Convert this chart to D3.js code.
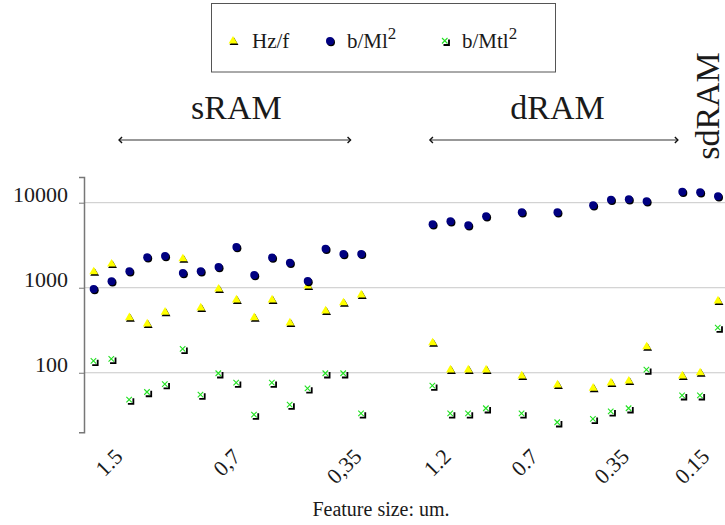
<!DOCTYPE html>
<html>
<head>
<meta charset="utf-8">
<script src="https://cdn.jsdelivr.net/npm/d3@7/dist/d3.min.js"></script>
<style>
  body { margin: 0; background: #fff; }
</style>
</head>
<body>
<svg class="chart"></svg>
<script>
var width = 725, height = 525;
var serif = "'Liberation Serif', 'Times New Roman', Times, serif";

// slot = position of each measurement along the category axis
var sramSlots  = [0, 1, 2, 3, 4, 5, 6, 7, 8, 9, 10, 11, 12, 13, 14, 15];
var dramSlots  = [19, 20, 21, 22, 24, 26, 28, 29, 30, 31];
var sdramSlots = [33, 34, 35];

var hzfSram  = [1540, 1900, 445, 375, 515, 2190, 580, 965, 720, 445, 720, 385, 1050, 535, 665, 825];
var hzfDram  = [225, 108, 108, 108, 92, 72, 66, 76, 80, 202];
var hzfSdram = [92, 100, 700];

var bmlSram  = [965, 1190, 1560, 2280, 2360, 1490, 1560, 1750, 3010, 1410, 2260, 1970, 1200, 2870, 2490, 2500];
var bmlDram  = [5570, 6040, 5420, 6920, 7710, 7710, 9310, 10840, 10980, 10380];
var bmlSdram = [13460, 13250, 11890];

var bmtlSram  = [137, 145, 48, 59, 73, 190, 55, 98, 76, 32, 76, 42, 65, 98, 98, 33];
var bmtlDram  = [70, 33, 33, 38, 33, 26, 28.5, 35, 38, 108];
var bmtlSdram = [54, 54, 338];

var yTicks = [100, 1000, 10000];

var xTickLabels = ["1.5", "0,7", "0,35", "1.2", "0.7", "0.35", "0.15"];
var xTickSlots  = [1.7, 8.3, 15.1, 20.1, 25.0, 30.1, 34.6];

var groupNames = ["sRAM", "dRAM", "sdRAM"];
var groupCenterSlots = [8.0, 26.0, 34.8];
var groupArrowFrom = [1.42, 18.85];
var groupArrowTo   = [14.4, 32.75];

var allSlots = sramSlots.concat(dramSlots, sdramSlots);
var series = [
  {key: "Hz/f", sup: "", shape: "tri", values: hzfSram.concat(hzfDram, hzfSdram)},
  {key: "b/Ml", sup: "2", shape: "dot", values: bmlSram.concat(bmlDram, bmlSdram)},
  {key: "b/Mtl", sup: "2", shape: "box", values: bmtlSram.concat(bmtlDram, bmtlSdram)}
];

var x = d3.scaleLinear().domain([0, 35]).range([93.7, 718]);
var y = d3.scaleLog().domain([20, 20000]).range([432.2, 177.1]);
var axisX = 84;

var svg = d3.select(".chart")
    .attr("width", width)
    .attr("height", height);

// gridlines
svg.selectAll(".grid")
    .data(yTicks)
  .enter().append("line")
    .attr("class", "grid")
    .attr("x1", axisX).attr("x2", width)
    .attr("y1", function(d) { return y(d); })
    .attr("y2", function(d) { return y(d); })
    .attr("stroke", "#c8c8c8")
    .attr("stroke-width", 1);

// y axis
var yAxis = d3.axisLeft(y)
    .tickValues(yTicks)
    .tickSize(5)
    .tickPadding(11)
    .tickFormat(d3.format("d"));

var gy = svg.append("g")
    .attr("transform", "translate(" + axisX + ",0)")
    .call(yAxis);
gy.select(".domain").attr("stroke", "#777").attr("stroke-width", 1.5);
gy.selectAll(".tick line").attr("stroke", "#777");
gy.selectAll(".tick text")
    .attr("font-size", 22)
    .attr("fill", "#1a1a1a")
    .attr("dy", "-0.05em");

// x tick labels
svg.selectAll(".xlab")
    .data(xTickLabels)
  .enter().append("text")
    .attr("class", "xlab")
    .attr("transform", function(d, i) {
      return "translate(" + x(xTickSlots[i]) + ",458) rotate(-45)";
    })
    .attr("text-anchor", "end")
    .attr("font-size", 22)
    .text(function(d) { return d; });

svg.append("text")
    .attr("x", 381)
    .attr("y", 516)
    .attr("text-anchor", "middle")
    .attr("font-size", 20)
    .text("Feature size: um.");

// group annotations
svg.selectAll(".grp")
    .data(groupNames.slice(0, 2))
  .enter().append("text")
    .attr("class", "grp")
    .attr("x", function(d, i) { return x(groupCenterSlots[i]); })
    .attr("y", 119)
    .attr("text-anchor", "middle")
    .attr("font-size", 34)
    .text(function(d) { return d; });

svg.append("text")
    .attr("transform", "translate(" + (x(groupCenterSlots[2]) + 5) + ",106) rotate(-90)")
    .attr("text-anchor", "middle")
    .attr("font-size", 34)
    .text(groupNames[2]);

var arrows = svg.selectAll(".arrow")
    .data(groupArrowFrom)
  .enter().append("g")
    .attr("class", "arrow");
arrows.append("line")
    .attr("x1", function(d) { return x(d); })
    .attr("x2", function(d, i) { return x(groupArrowTo[i]); })
    .attr("y1", 140).attr("y2", 140)
    .attr("stroke", "#333").attr("stroke-width", 1.2);
arrows.append("path")
    .attr("d", function(d) { var a = x(d); return "M" + (a + 3) + ",137 L" + a + ",140 L" + (a + 3) + ",143"; })
    .attr("fill", "none").attr("stroke", "#111").attr("stroke-width", 1.4);
arrows.append("path")
    .attr("d", function(d, i) { var b = x(groupArrowTo[i]); return "M" + (b - 3) + ",137 L" + b + ",140 L" + (b - 3) + ",143"; })
    .attr("fill", "none").attr("stroke", "#111").attr("stroke-width", 1.4);

// marker drawing
var triPath = d3.symbol().type(d3.symbolTriangle).size(34)();

function drawMarker(g, shape) {
  if (shape == "tri") {
    g.append("path").attr("d", triPath).attr("transform", "translate(1,1.5)").attr("fill", "#000");
    g.append("path").attr("d", triPath).attr("fill", "#ffff00");
  } else if (shape == "dot") {
    g.append("circle").attr("cx", 1).attr("cy", 1.2).attr("r", 4).attr("fill", "#000");
    g.append("circle").attr("r", 4).attr("fill", "#000080");
  } else {
    g.append("path").attr("d", "M-1.5,4L4,4L4,-1.5")
      .attr("fill", "none").attr("stroke", "#000").attr("stroke-width", 1.8);
    g.append("path").attr("d", "M-3,-3L2.5,2.5M2.5,-3L-3,2.5")
      .attr("stroke", "#22e022").attr("stroke-width", 1.1);
  }
}

series.forEach(function(s) {
  var pts = svg.append("g").attr("class", "serie")
    .selectAll(".pt")
    .data(s.values)
    .enter().append("g")
    .attr("class", "pt")
    .attr("transform", function(d, i) { return "translate(" + x(allSlots[i]) + "," + y(d) + ")"; });
  pts.each(function() { drawMarker(d3.select(this), s.shape); });
});

// legend
svg.append("rect")
    .attr("x", 211.5).attr("y", 3.5)
    .attr("width", 344).attr("height", 68.5)
    .attr("fill", "none").attr("stroke", "#555").attr("stroke-width", 1);

var legX = [233, 330, 445];
var legTextX = [252, 347, 462];
var leg = svg.selectAll(".leg")
    .data(series)
  .enter().append("g")
    .attr("class", "leg");
leg.each(function(d, i) {
  var m = d3.select(this).append("g").attr("transform", "translate(" + legX[i] + ",41)");
  drawMarker(m, d.shape);
  var t = d3.select(this).append("text")
      .attr("x", legTextX[i]).attr("y", 48)
      .attr("font-size", 21)
      .text(d.key);
  if (d.sup) {
    t.append("tspan").attr("dy", -9).attr("font-size", 17).text(d.sup);
  }
});

svg.selectAll("text")
    .style("font-family", serif)
    .style("fill", "#1a1a1a");
</script>
</body>
</html>
